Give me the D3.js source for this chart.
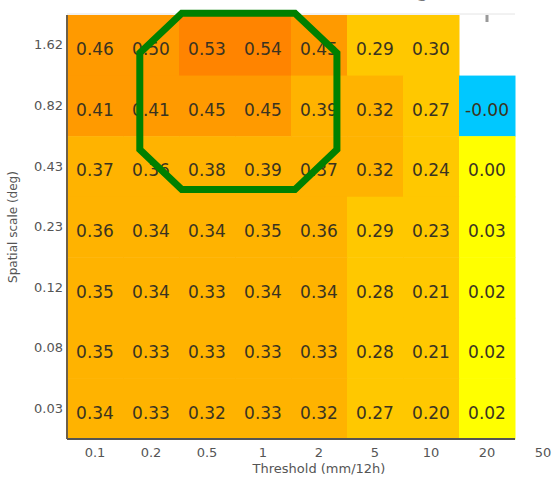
<!DOCTYPE html>
<html>
<head>
<meta charset="utf-8">
<script src="https://cdn.jsdelivr.net/npm/d3@7"></script>
<style>
  body { margin: 0; background: #fff; }
  svg { display: block; }
</style>
</head>
<body>
<div id="chart"></div>
<script>
var svgWidth = 554;
var svgHeight = 477;

// data
var thresholds = ['0.1', '0.2', '0.5', '1', '2', '5', '10', '20', '50'];
var scales = ['1.62', '0.82', '0.43', '0.23', '0.12', '0.08', '0.03'];

var row162 = [0.46, 0.50, 0.53, 0.54, 0.45, 0.29, 0.30, null];
var row082 = [0.41, 0.41, 0.45, 0.45, 0.39, 0.32, 0.27, -0.004];
var row043 = [0.37, 0.36, 0.38, 0.39, 0.37, 0.32, 0.24, 0.00];
var row023 = [0.36, 0.34, 0.34, 0.35, 0.36, 0.29, 0.23, 0.03];
var row012 = [0.35, 0.34, 0.33, 0.34, 0.34, 0.28, 0.21, 0.02];
var row008 = [0.35, 0.33, 0.33, 0.33, 0.33, 0.28, 0.21, 0.02];
var row003 = [0.34, 0.33, 0.32, 0.33, 0.32, 0.27, 0.20, 0.02];

var rows = [row162, row082, row043, row023, row012, row008, row003];

// flatten into cells
var cells = [];
rows.forEach(function(r, i) {
  r.forEach(function(v, j) {
    cells.push({ scale: scales[i], threshold: thresholds[j], value: v });
  });
});

var svg = d3.select('#chart')
  .append('svg')
  .attr('width', svgWidth)
  .attr('height', svgHeight);

var plotLeft = 67, plotTop = 15, plotBottom = 439, colW = 56;

var x = d3.scaleBand()
  .domain(thresholds)
  .range([plotLeft, plotLeft + colW * thresholds.length]);

var y = d3.scaleBand()
  .domain(scales)
  .range([plotTop, plotBottom]);

var color = d3.scaleThreshold()
  .domain([0, 0.1, 0.305, 0.4, 0.505])
  .range(['#00c8ff', '#ffff00', '#ffc800', '#ffb300', '#ff9a00', '#ff8400']);

var plotRight = x('50');

// top frame line and inward ticks (only visible where no cell covers them)
svg.append('line')
  .attr('x1', plotLeft).attr('x2', plotRight)
  .attr('y1', plotTop - 1).attr('y2', plotTop - 1)
  .attr('stroke', '#e4e4e4');

svg.append('g')
  .selectAll('line')
  .data(thresholds.slice(0, 8))
  .enter()
  .append('line')
  .attr('x1', d => x(d) + x.bandwidth() / 2)
  .attr('x2', d => x(d) + x.bandwidth() / 2)
  .attr('y1', plotTop)
  .attr('y2', plotTop + 7)
  .attr('stroke', '#999')
  .attr('stroke-width', 3);

// cells
svg.append('g')
  .selectAll('rect')
  .data(cells.filter(d => d.value !== null))
  .enter()
  .append('rect')
  .attr('x', d => x(d.threshold))
  .attr('y', d => y(d.scale))
  .attr('width', x.bandwidth() + 0.5)
  .attr('height', y.bandwidth() + 0.5)
  .attr('fill', d => color(d.value));

function fmt(v) {
  return (v < 0 ? '-' : '') + Math.abs(v).toFixed(2);
}

svg.append('g')
  .selectAll('text')
  .data(cells.filter(d => d.value !== null))
  .enter()
  .append('text')
  .attr('x', d => x(d.threshold) + x.bandwidth() / 2)
  .attr('y', d => y(d.scale) + y.bandwidth() / 2 + 4)
  .attr('text-anchor', 'middle')
  .attr('dominant-baseline', 'central')
  .attr('font-family', 'DejaVu Sans')
  .attr('font-size', '17px')
  .attr('fill', '#3a3320')
  .text(d => fmt(d.value));

// axes
var bottomAxis = d3.axisBottom(x).tickSize(0).tickPadding(9);
var xAxis = svg.append('g')
  .attr('transform', `translate(0, ${plotBottom})`)
  .call(bottomAxis);
xAxis.select('.domain').remove();
xAxis.selectAll('text')
  .attr('font-family', 'DejaVu Sans')
  .attr('font-size', '13px')
  .attr('fill', '#555');

var leftAxis = d3.axisLeft(y).tickSize(0).tickPadding(4);
var yAxis = svg.append('g')
  .attr('transform', `translate(${plotLeft}, 0)`)
  .call(leftAxis);
yAxis.select('.domain').remove();
yAxis.selectAll('text')
  .attr('font-family', 'DejaVu Sans')
  .attr('font-size', '13px')
  .attr('fill', '#555');

// frame lines
svg.append('line')
  .attr('x1', plotLeft).attr('x2', plotLeft)
  .attr('y1', plotTop).attr('y2', plotBottom)
  .attr('stroke', '#6e6048')
  .attr('stroke-width', 2);

svg.append('line')
  .attr('x1', plotLeft).attr('x2', plotRight)
  .attr('y1', plotBottom).attr('y2', plotBottom)
  .attr('stroke', '#555')
  .attr('stroke-width', 2);

// axis titles
svg.append('text')
  .attr('x', (x.range()[0] + x.range()[1]) / 2)
  .attr('y', 473)
  .attr('text-anchor', 'middle')
  .attr('font-family', 'DejaVu Sans')
  .attr('font-size', '13px')
  .attr('fill', '#555')
  .text('Threshold (mm/12h)');

svg.append('text')
  .attr('transform', `translate(17, ${(plotTop + plotBottom) / 2}) rotate(-90)`)
  .attr('text-anchor', 'middle')
  .attr('font-family', 'DejaVu Sans')
  .attr('font-size', '12px')
  .attr('fill', '#555')
  .text('Spatial scale (deg)');

// clipped title remnant at the very top
svg.append('text')
  .attr('x', 428)
  .attr('y', -7)
  .attr('text-anchor', 'middle')
  .attr('font-family', 'DejaVu Serif')
  .attr('font-weight', 'bold')
  .attr('font-style', 'italic')
  .attr('font-size', '36px')
  .attr('fill', '#000')
  .text('y');

// green octagon highlighting the best skill region (band units)
var oct = { c0: 1.3, c1: 4.82, r0: -0.03, r1: 2.88, cut: 0.75 };
var ox0 = plotLeft + oct.c0 * colW, ox1 = plotLeft + oct.c1 * colW;
var oy0 = plotTop + oct.r0 * y.bandwidth(), oy1 = plotTop + oct.r1 * y.bandwidth();
var cx = oct.cut * colW, cy = oct.cut * colW * 0.95;
var octPts = [
  [ox0 + cx, oy0], [ox1 - cx, oy0], [ox1, oy0 + cy], [ox1, oy1 - cy],
  [ox1 - cx, oy1], [ox0 + cx, oy1], [ox0, oy1 - cy], [ox0, oy0 + cy]
];

svg.append('path')
  .attr('d', d3.line()(octPts) + 'Z')
  .attr('fill', 'none')
  .attr('stroke', '#008000')
  .attr('stroke-width', 7)
  .attr('stroke-linejoin', 'miter');
</script>
</body>
</html>
